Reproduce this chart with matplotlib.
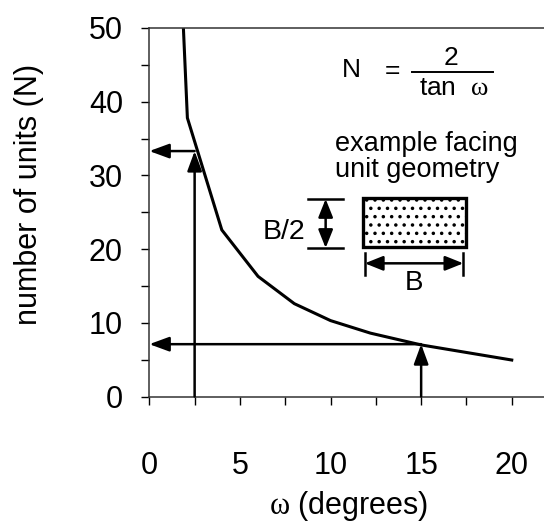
import numpy as np
from matplotlib import pyplot as plt
from matplotlib.patches import Rectangle

plt.rcParams['font.family'] = ['Liberation Sans', 'DejaVu Sans']
plt.rcParams['mathtext.fontset'] = 'custom'
plt.rcParams['mathtext.rm'] = 'Liberation Serif'
plt.rcParams['font.size'] = 22
plt.rcParams['hatch.linewidth'] = 1.3

# curve (omega in degrees, N units)
omega = [1.88, 2.1, 4.0, 6.0, 8.0, 10.0, 12.2, 15.0, 20.0]
n_units = [50.0, 37.8, 22.6, 16.3, 12.6, 10.3, 8.6, 7.0, 4.95]

# the two worked examples (arrows)
ex_omega = [2.5, 15.0]
ex_n = [33.3, 7.1]

xticks = np.arange(0, 20.1, 2.5)
xlabels = ['0', '', '5', '', '10', '', '15', '', '20']
yticks = np.arange(0, 50.1, 5)
ylabels = ['0', '', '10', '', '20', '', '30', '', '40', '', '50']

fig = plt.figure(figsize=(5.44, 5.22), dpi=100)
ax = fig.add_axes([0.2745, 0.2404, 0.7255, 0.706])

ax.plot(omega, n_units, c='k', lw=2.2, solid_joinstyle='miter')

arr = dict(arrowstyle='-|>,head_length=0.6,head_width=0.22', lw=1.8,
           color='k', mutation_scale=20, shrinkA=0, shrinkB=0)
for w, n in zip(ex_omega, ex_n):
    ax.annotate('', xy=(w, n), xytext=(w, 0), arrowprops=arr)
    ax.annotate('', xy=(0, n), xytext=(w, n), arrowprops=arr)

ax.set_xlim(0, 21.78)
ax.set_ylim(0, 50)
ax.set_xticks(xticks)
ax.set_xticklabels(xlabels)
ax.set_yticks(yticks)
ax.set_yticklabels(ylabels)
ax.tick_params(axis='x', direction='out', length=6, width=1, pad=33)
ax.tick_params(axis='y', direction='out', length=6, width=1, pad=13)

for s in ['left', 'bottom', 'top']:
    ax.spines[s].set_linewidth(1.1)
    ax.spines[s].set_color('#333333')
ax.spines['right'].set_visible(False)

# formula
ax.text(11.13, 43.4, 'N', fontsize=19, ha='center', va='baseline')
ax.text(13.39, 44.2, '=', fontsize=19, ha='center', va='center')
ax.plot([14.5, 18.97], [44.07, 44.07], c='k', lw=1.4)
ax.text(16.65, 44.98, '2', fontsize=19, ha='center', va='baseline')
ax.text(16.82, 40.9, r'tan  $\mathrm{\omega}$', fontsize=19, ha='center', va='baseline')

# facing unit sketch
ax.text(10.25, 33.29, 'example facing', fontsize=19.5, ha='left', va='baseline')
ax.text(10.25, 29.76, 'unit geometry', fontsize=19.5, ha='left', va='baseline')

ax.add_patch(Rectangle((11.78, 20.28), 5.7, 6.65, fill=False, hatch='..',
                       edgecolor='k', lw=2.4))
ax.plot([8.76, 10.69], [26.8, 26.8], c='k', lw=1.8)
ax.plot([8.76, 10.69], [20.15, 20.15], c='k', lw=1.8)
dim = dict(arrowstyle='<|-|>,head_length=0.55,head_width=0.22', lw=1.8,
           color='k', mutation_scale=20, shrinkA=0, shrinkB=0)
ax.annotate('', xy=(9.73, 26.8), xytext=(9.73, 20.15), arrowprops=dim)
ax.text(8.59, 22.3, 'B/2', fontsize=20.5, ha='right', va='center')

ax.plot([11.89, 11.89], [16.49, 19.47], c='k', lw=1.8)
ax.plot([17.33, 17.33], [16.49, 19.47], c='k', lw=1.8)
ax.annotate('', xy=(11.89, 18.07), xytext=(17.33, 18.07), arrowprops=dim)
ax.text(14.61, 15.4, 'B', fontsize=20, ha='center', va='center')

fig.text(29 / 544, 1 - 194 / 522, 'number of units (N)', rotation=90,
         ha='center', va='center', fontsize=22)
fig.text(348.5 / 544, 1 - 506 / 522, r'$\mathrm{\omega}$ (degrees)',
         ha='center', va='center', fontsize=22)

plt.savefig('out.png', dpi=100)
